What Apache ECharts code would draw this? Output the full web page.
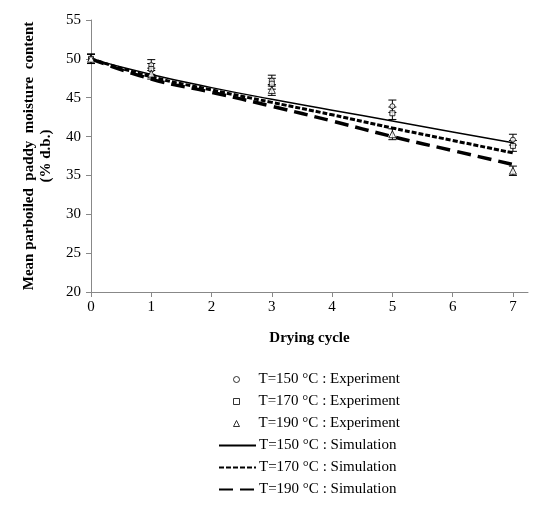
<!DOCTYPE html>
<html><head><meta charset="utf-8">
<script src="https://cdn.jsdelivr.net/npm/echarts@6/dist/echarts.min.js"></script>
<style>html,body{margin:0;padding:0;background:#fff}#c{width:540px;height:505px}</style>
</head><body><div id="c"></div>
<script>
const cycles = [0, 1, 3, 5, 7];
const exp150 = [50.0, 49.2, 47.2, 43.9, 39.6];
const exp170 = [50.0, 48.7, 46.8, 43.0, 38.8];
const exp190 = [50.0, 48.1, 46.0, 40.3, 35.6];
const err150 = [0.6, 0.7, 0.7, 0.8, 0.7];
const err170 = [0.6, 0.7, 0.7, 0.8, 0.7];
const err190 = [0.6, 0.7, 0.7, 0.7, 0.6];
const simX = [0, 1, 2, 3, 4, 5, 6, 7];
const sim150 = [50.0, 48.0, 46.3, 44.8, 43.4, 42.0, 40.6, 39.2];
const sim170 = [50.0, 47.7, 46.0, 44.4, 42.8, 41.1, 39.5, 37.9];
const sim190 = [50.0, 47.4, 45.7, 43.9, 42.0, 40.0, 38.2, 36.4];
const names = ['T=150 °C : Experiment','T=170 °C : Experiment','T=190 °C : Experiment',
               'T=150 °C : Simulation','T=170 °C : Simulation','T=190 °C : Simulation'];

const font = 'Liberation Serif, Times New Roman, serif';
function pairs(xs, ys){ return xs.map((x,i)=>[x, ys[i]]); }
function errSeries(ys, es){
  return {
    type:'custom', silent:true, z:3,
    data: cycles.map((x,i)=>[x, ys[i]-es[i], ys[i]+es[i]]),
    renderItem: function(params, api){
      const lo = api.coord([api.value(0), api.value(1)]);
      const hi = api.coord([api.value(0), api.value(2)]);
      const w = 4;
      const st = {stroke:'#000', lineWidth:1};
      return {type:'group', children:[
        {type:'line', shape:{x1:lo[0],y1:lo[1],x2:hi[0],y2:hi[1]}, style:st},
        {type:'line', shape:{x1:lo[0]-w,y1:lo[1],x2:lo[0]+w,y2:lo[1]}, style:st},
        {type:'line', shape:{x1:hi[0]-w,y1:hi[1],x2:hi[0]+w,y2:hi[1]}, style:st}
      ]};
    }
  };
}
const mk = {color:'#fff', borderColor:'#000', borderWidth:1};
const chart = echarts.init(document.getElementById('c'));
chart.setOption({
  animation:false,
  textStyle:{fontFamily:font},
  grid:{left:91, right:12, top:20, bottom:213},
  xAxis:{type:'value', min:0, max:7.25, interval:1,
    axisLine:{lineStyle:{color:'#888'}}, axisTick:{show:true, length:5, lineStyle:{color:'#888'}},
    splitLine:{show:false},
    axisLabel:{color:'#000', fontSize:15, fontFamily:font, showMaxLabel:false, margin:8},
    name:'Drying cycle', nameLocation:'middle', nameGap:39,
    nameTextStyle:{color:'#000', fontSize:15, fontWeight:'bold', fontFamily:font}},
  yAxis:{type:'value', min:20, max:55, interval:5,
    axisLine:{show:true, lineStyle:{color:'#888'}}, axisTick:{show:true, length:5, lineStyle:{color:'#888'}},
    splitLine:{show:false},
    axisLabel:{color:'#000', fontSize:15, fontFamily:font, margin:10},
    name:'Mean parboiled  paddy  moisture  content\n(% d.b.)', nameLocation:'middle', nameGap:34,
    nameTextStyle:{color:'#000', fontSize:15, fontWeight:'bold', fontFamily:font, lineHeight:17}},
  legend:[
    {orient:'vertical', left:233, top:371, padding:0, itemGap:5, itemWidth:6, itemHeight:6,
      itemStyle:{borderWidth:1},
      data:names.slice(0,3), textStyle:{color:'#000', fontSize:15, fontFamily:font, lineHeight:17, padding:[0,0,0,14]}},
    {orient:'vertical', left:218, top:437, bottom:0, padding:0, itemGap:5, itemWidth:37, itemHeight:14,
      itemStyle:{opacity:0},
      data:names.slice(3), textStyle:{color:'#000', fontSize:15, fontFamily:font, lineHeight:17, padding:[0,0,0,-2]}}
  ],
  series:[
    {name:names[3], type:'line', data:pairs(simX, sim150), smooth:true, symbol:'none', z:2, color:'#000',
      lineStyle:{color:'#000', width:1.5, type:'solid'}},
    {name:names[4], type:'line', data:pairs(simX, sim170), smooth:true, symbol:'none', z:2, color:'#000',
      lineStyle:{color:'#000', width:3, type:[5,2]}},
    {name:names[5], type:'line', data:pairs(simX, sim190), smooth:true, symbol:'none', z:2, color:'#000',
      lineStyle:{color:'#000', width:3.5, type:[14,7]}},
    errSeries(exp150, err150), errSeries(exp170, err170), errSeries(exp190, err190),
    {name:names[0], type:'scatter', data:pairs(cycles, exp150), symbol:'circle', symbolSize:5, z:4, itemStyle:mk},
    {name:names[1], type:'scatter', data:pairs(cycles, exp170), symbol:'rect', symbolSize:5, z:4, itemStyle:mk},
    {name:names[2], type:'scatter', data:pairs(cycles, exp190), symbol:'triangle', symbolSize:7, z:4, itemStyle:mk}
  ]
});
</script></body></html>
